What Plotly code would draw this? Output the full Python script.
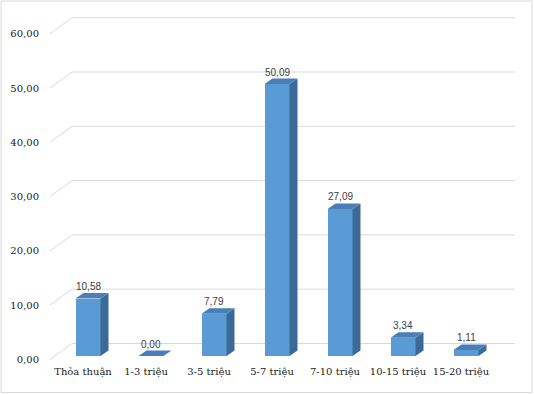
import plotly.graph_objects as go

categories = ["Thỏa thuận", "1-3 triệu", "3-5 triệu", "5-7 triệu", "7-10 triệu", "10-15 triệu", "15-20 triệu"]
values = [10.58, 0.00, 7.79, 50.09, 27.09, 3.34, 1.11]
y_ticks = [0, 10, 20, 30, 40, 50, 60]

W, H = 534, 394
ML, MR, MT, MB = 44, 0, 0, 30
PX_CAT = 63.0       # pixels per category
TICK0_PX = 83.0     # pixel of first category (front plane)
PX_UNIT = 5.43      # pixels per value unit
ZERO_PX = 359.5     # pixel of value 0 (front plane)

def dxu(px):
    return px / PX_CAT

def dyu(px):
    return px / PX_UNIT

x_range = [dxu(ML - TICK0_PX), dxu(W - MR - TICK0_PX)]
y_range = [dyu(ZERO_PX - (H - MB)), dyu(ZERO_PX - MT)]

FRONT = "#5B9BD5"
SIDE = "#3C6A98"
TOP = "#4A7EB7"
GRID = "#D9D9D9"
SERIF = "DejaVu Serif"

bar_shift_x = dxu(5)
bar_base = dyu(3.5)
bar_w = dxu(25)
depth_x = dxu(8)
depth_y = dyu(5.5)

fig = go.Figure()

shapes = []
for v in y_ticks:
    path = "M {} {} L {} {} L {} {}".format(
        dxu(50 - TICK0_PX), v,
        dxu(72 - TICK0_PX), v + dyu(16),
        dxu(515 - TICK0_PX), v + dyu(16))
    shapes.append(dict(type="path", path=path, xref="x", yref="y",
                       line=dict(color=GRID, width=1), layer="below"))

shapes.append(dict(type="rect", xref="paper", yref="paper",
                   x0=(1 - ML) / (W - ML - MR), x1=(532 - ML) / (W - ML - MR),
                   y0=((H - MB) - 392.5) / (H - MB - MT), y1=((H - MB) - 1) / (H - MB - MT),
                   line=dict(color=GRID, width=1), fillcolor="rgba(0,0,0,0)"))

xs = [i + bar_shift_x for i in range(len(categories))]

fig.add_trace(go.Bar(x=xs, y=values, base=bar_base, width=bar_w,
                     marker=dict(color=FRONT, line=dict(width=0)),
                     hoverinfo="skip", showlegend=False))

side_x, side_y, top_x, top_y = [], [], [], []
for xc, v in zip(xs, values):
    l, r = xc - bar_w / 2, xc + bar_w / 2
    b, t = bar_base, bar_base + v
    side_x += [r, r + depth_x, r + depth_x, r, r, None]
    side_y += [b, b + depth_y, t + depth_y, t, b, None]
    top_x += [l, l + depth_x, r + depth_x, r, l, None]
    top_y += [t, t + depth_y, t + depth_y, t, t, None]

fig.add_trace(go.Scatter(x=side_x, y=side_y, mode="lines", fill="toself",
                         fillcolor=SIDE, line=dict(width=0, color=SIDE),
                         hoverinfo="skip", showlegend=False))
fig.add_trace(go.Scatter(x=top_x, y=top_y, mode="lines", fill="toself",
                         fillcolor=TOP, line=dict(width=0, color=TOP),
                         hoverinfo="skip", showlegend=False))

annotations = []
for xc, v in zip(xs, values):
    annotations.append(dict(x=xc, y=bar_base + v, xref="x", yref="y",
                            text=f"{v:.2f}".replace(".", ","), showarrow=False,
                            yshift=12, yanchor="middle",
                            font=dict(family="Liberation Sans", size=10, color="#404040")))

fig.update_layout(
    width=W, height=H,
    margin=dict(l=ML, r=MR, t=MT, b=MB),
    paper_bgcolor="white", plot_bgcolor="white",
    separators=",.",
    shapes=shapes, annotations=annotations,
    bargap=0,
    xaxis=dict(range=x_range, tickvals=list(range(len(categories))), ticktext=categories,
               showgrid=False, zeroline=False, showline=False, ticks="",
               tickangle=0,
               tickfont=dict(family=SERIF, size=10, color="#222222"),
               fixedrange=True),
    yaxis=dict(range=y_range, tickvals=y_ticks, tickformat=".2f",
               showgrid=False, zeroline=False, showline=False, ticks="",
               ticklabelstandoff=4,
               tickfont=dict(family=SERIF, size=10, color="#222222"),
               fixedrange=True),
)

fig.write_html("out.html")
